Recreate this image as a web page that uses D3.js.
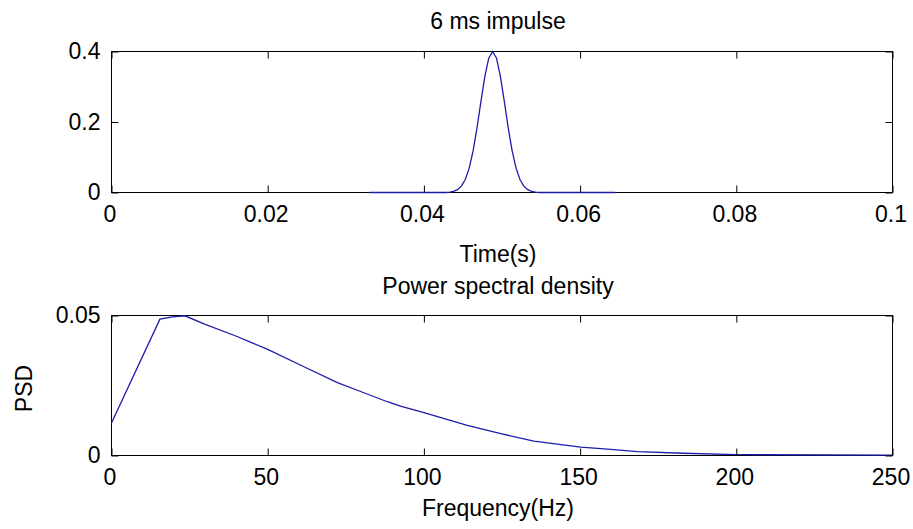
<!DOCTYPE html>
<html>
<head>
<meta charset="utf-8">
<script src="https://cdn.jsdelivr.net/npm/d3@7"></script>
<style>
  body { margin: 0; background: #fff; }
  text { font-family: "Liberation Sans", Arial, sans-serif; fill: #000; }
</style>
</head>
<body>
<div id="chart"></div>
<script>
// impulse (time in s, amplitude)
var timeS = [0.033, 0.0428, 0.0433, 0.0438, 0.0443, 0.0448, 0.0453, 0.0458, 0.0463, 0.0468,
             0.0473, 0.0478, 0.0483, 0.0488, 0.0493, 0.0498, 0.0503, 0.0508, 0.0513, 0.0518,
             0.0523, 0.0528, 0.0533, 0.0538, 0.0543, 0.0548, 0.0645];
var impulse = [0, 0, 0.001, 0.003, 0.008, 0.018, 0.037, 0.069, 0.118, 0.183,
               0.258, 0.329, 0.381, 0.400, 0.381, 0.329, 0.258, 0.183, 0.118, 0.069,
               0.037, 0.018, 0.008, 0.003, 0.001, 0, 0];

// power spectral density (Hz, PSD)
var freqHz = [0, 15.5, 19.5, 23.5, 29.6, 40.2, 50, 61.6, 72.3, 78.7, 88.3, 92.5, 100,
              113.9, 124.6, 135.2, 150.2, 159.8, 168.3, 183, 200, 250];
var psd = [0.0116, 0.0487, 0.0495, 0.0499, 0.0470, 0.0425, 0.0379, 0.0317, 0.0260, 0.0233,
           0.0192, 0.0176, 0.0153, 0.0108, 0.0078, 0.0051, 0.0030, 0.0022, 0.0014, 0.0008,
           0.0003, 0.0001];

// ticks
var timeTicks = [0, 0.02, 0.04, 0.06, 0.08, 0.1];
var timeTickLabels = ["0", "0.02", "0.04", "0.06", "0.08", "0.1"];
var ampTicks = [0, 0.2, 0.4];
var ampTickLabels = ["0", "0.2", "0.4"];
var freqTicks = [0, 50, 100, 150, 200, 250];
var freqTickLabels = ["0", "50", "100", "150", "200", "250"];
var psdTicks = [0, 0.05];
var psdTickLabels = ["0", "0.05"];

var W = 913, H = 529;
var lineColor = "#1c1ca8";
var fontSize = "23px";

var svg = d3.select("#chart").append("svg")
    .attr("width", W)
    .attr("height", H);

svg.append("rect").attr("width", W).attr("height", H).attr("fill", "#fff");

function drawPanel(opt) {
  var x = d3.scaleLinear().domain(opt.xDomain).range([opt.left, opt.right]);
  var y = d3.scaleLinear().domain(opt.yDomain).range([opt.bottom, opt.top]);
  var g = svg.append("g");

  // box
  g.append("rect")
      .attr("x", opt.left).attr("y", opt.top)
      .attr("width", opt.right - opt.left).attr("height", opt.bottom - opt.top)
      .attr("fill", "none").attr("stroke", "#000").attr("stroke-width", 1);

  // the curve
  var pts = opt.xs.map(function(d, i) { return [d, opt.ys[i]]; });
  g.append("path")
      .datum(pts)
      .attr("fill", "none")
      .attr("stroke", lineColor)
      .attr("stroke-width", 1.3)
      .attr("d", d3.line()
        .x(function(d) { return x(d[0]); })
        .y(function(d) { return y(d[1]); }));

  // bottom axis (ticks inward)
  var xb = g.append("g")
      .attr("transform", "translate(0," + opt.bottom + ")")
      .call(d3.axisBottom(x).tickValues(opt.xTicks).tickSize(-7).tickPadding(13)
        .tickFormat(function(d, i) { return opt.xLabels[i]; }));
  // top axis ticks only
  var xt = g.append("g")
      .attr("transform", "translate(0," + opt.top + ")")
      .call(d3.axisTop(x).tickValues(opt.xTicks).tickSize(-7).tickFormat(""));
  // left axis
  var yl = g.append("g")
      .attr("transform", "translate(" + opt.left + ",0)")
      .call(d3.axisLeft(y).tickValues(opt.yTicks).tickSize(-7).tickPadding(11)
        .tickFormat(function(d, i) { return opt.yLabels[i]; }));
  // right axis ticks only
  var yr = g.append("g")
      .attr("transform", "translate(" + opt.right + ",0)")
      .call(d3.axisRight(y).tickValues(opt.yTicks).tickSize(-7).tickFormat(""));

  [xb, xt, yl, yr].forEach(function(a) {
    a.select(".domain").remove();
    a.selectAll("line").attr("stroke", "#000");
    a.selectAll("text").attr("font-size", fontSize)
      .attr("font-family", "Liberation Sans, Arial, sans-serif").attr("fill", "#000");
  });
  xb.selectAll("text").attr("dx", "-2");

  var cx = (opt.left + opt.right) / 2 - 4;
  g.append("text")
      .attr("x", cx).attr("y", opt.titleY)
      .attr("text-anchor", "middle")
      .attr("font-size", fontSize)
      .text(opt.title);
  g.append("text")
      .attr("x", cx).attr("y", opt.xLabelY)
      .attr("text-anchor", "middle")
      .attr("font-size", fontSize)
      .text(opt.xLabel);
  if (opt.yLabel) {
    g.append("text")
        .attr("transform", "translate(32," + ((opt.top + opt.bottom) / 2 + 3) + ") rotate(-90)")
        .attr("text-anchor", "middle")
        .attr("font-size", fontSize)
        .text(opt.yLabel);
  }
}

drawPanel({
  left: 111.5, right: 892.5, top: 51.5, bottom: 192.5,
  xDomain: [0, 0.1], yDomain: [0, 0.4],
  xs: timeS, ys: impulse,
  xTicks: timeTicks, xLabels: timeTickLabels,
  yTicks: ampTicks, yLabels: ampTickLabels,
  title: "6 ms impulse", titleY: 29,
  xLabel: "Time(s)", xLabelY: 262
});

drawPanel({
  left: 111.5, right: 892.5, top: 315.5, bottom: 455.5,
  xDomain: [0, 250], yDomain: [0, 0.05],
  xs: freqHz, ys: psd,
  xTicks: freqTicks, xLabels: freqTickLabels,
  yTicks: psdTicks, yLabels: psdTickLabels,
  title: "Power spectral density", titleY: 294,
  xLabel: "Frequency(Hz)", xLabelY: 516,
  yLabel: "PSD"
});
</script>
</body>
</html>
